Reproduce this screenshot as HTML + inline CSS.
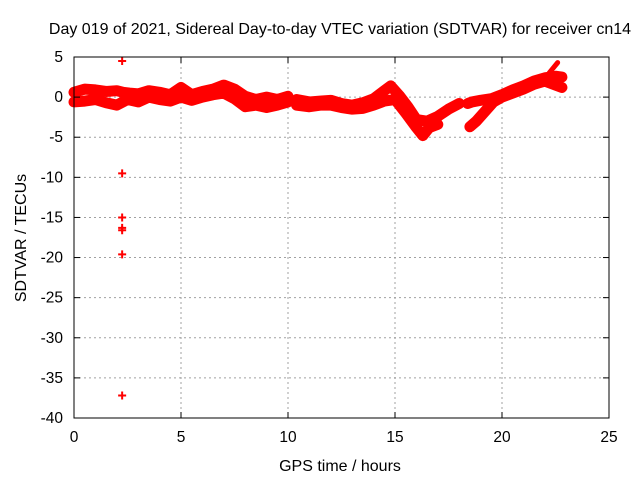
<!DOCTYPE html>
<html><head><meta charset="utf-8">
<style>
body{margin:0;background:#fff;}
svg{display:block;font-family:"Liberation Sans",sans-serif;}
</style></head>
<body>
<svg id="chart" width="640" height="480">
<rect width="640" height="480" fill="#fff"/>
<g id="grid"></g>
<g id="marks"></g>
<rect x="74" y="57" width="535" height="361" fill="none" stroke="#000" stroke-width="1"/>
<g id="ticks"></g>
<text x="340" y="34" text-anchor="middle" font-size="16">Day 019 of 2021, Sidereal Day-to-day VTEC variation (SDTVAR) for receiver cn14</text>
<text x="340" y="471" text-anchor="middle" font-size="16">GPS time / hours</text>
<text transform="translate(26,238) rotate(-90)" text-anchor="middle" font-size="16">SDTVAR / TECUs</text>
</svg>
<script>
const xTicks=[0,5,10,15,20,25];
const yTicks=[5,0,-5,-10,-15,-20,-25,-30,-35,-40];
const trackA_t=[0,0.5,1,1.5,2,2.3,2.6,3,3.5,4,4.5,5,5.5,6,6.5,7,7.5,8,8.5,9,9.5,10];
const trackA_v=[0.6,1,0.9,0.7,0.8,0.6,0.5,0.4,0.8,0.6,0.3,1.2,0.3,0.7,1,1.5,1,0.1,-0.3,0,-0.3,0.1];
const trackB_t=[0,0.5,1,1.5,2,2.5,3,3.5,4,4.5,5,5.5,6,6.5,7,7.5,8,8.5,9,9.5,10];
const trackB_v=[-0.6,-0.5,-0.3,-0.7,-1,-0.3,-0.6,0,-0.3,-0.5,0,-0.4,0,0.3,0.5,-0.2,-1.2,-1,-1.3,-1,-0.6];
const trackC_t=[10.4,11,11.5,12,12.5,13,13.5,14,14.5,14.8,15.2,15.6,16,16.5,17,17.5,18];
const trackC_v=[-0.3,-0.6,-0.5,-0.4,-0.8,-1,-0.7,-0.2,0.8,1.4,0.2,-1.2,-2.8,-3,-2.4,-1.5,-0.8];
const trackD_t=[10.4,11,11.5,12,12.5,13,13.5,14,14.5,15,15.5,16,16.3,16.6,17];
const trackD_v=[-1,-1.2,-1,-1,-1.3,-1.5,-1.4,-1,-0.5,-0.3,-2,-3.8,-4.8,-3.8,-3.4];
const trackE_t=[18.4,18.6,19,19.5,20,20.5,21,21.5,22,22.5,22.8];
const trackE_v=[-0.8,-0.6,-0.4,-0.2,0.3,0.9,1.4,2,2.4,2.6,2.5];
const trackF_t=[18.5,18.8,19.2,19.6,20,20.5,21,21.5,22,22.5,22.8];
const trackF_v=[-3.7,-3,-1.8,-0.6,0,0.5,1,1.6,2,1.5,1.2];
const spike_t=[22.2,22.6];
const spike_v=[3,4.3];
const outlier_t=[2.25,2.25,2.25,2.25,2.25,2.25,2.25];
const outlier_v=[4.5,-9.5,-15,-16.3,-16.6,-19.6,-37.2];
const NS="http://www.w3.org/2000/svg";
const X0=74,X1=609,Y0=57,Y1=418,XMIN=0,XMAX=25,YMIN=-40,YMAX=5;
function sx(v){return X0+(v-XMIN)/(XMAX-XMIN)*(X1-X0);}
function sy(v){return Y1-(v-YMIN)/(YMAX-YMIN)*(Y1-Y0);}
function mk(tag,attrs,parent){const e=document.createElementNS(NS,tag);for(const k in attrs)e.setAttribute(k,attrs[k]);parent.appendChild(e);return e;}
const grid=document.getElementById('grid'),ticks=document.getElementById('ticks'),marks=document.getElementById('marks');
xTicks.forEach(t=>{const x=sx(t);
 const g=mk('line',{x1:x,x2:x,y1:Y0,y2:Y1,stroke:'#a0a0a0','stroke-dasharray':'2,3'},grid);
 
 
 mk('line',{x1:x,x2:x,y1:Y1,y2:Y1-6,stroke:'#000'},ticks);
 mk('line',{x1:x,x2:x,y1:Y0,y2:Y0+6,stroke:'#000'},ticks);
 const l=mk('text',{x:x,y:Y1+24,'text-anchor':'middle','font-size':15.5},ticks);l.textContent=t;
 
 });
yTicks.forEach(t=>{const y=sy(t);
 const g=mk('line',{x1:X0,x2:X1,y1:y,y2:y,stroke:'#a0a0a0','stroke-dasharray':'2,3'},grid);
 
 
 mk('line',{x1:X0,x2:X0+6,y1:y,y2:y,stroke:'#000'},ticks);
 mk('line',{x1:X1,x2:X1-6,y1:y,y2:y,stroke:'#000'},ticks);
 const l=mk('text',{x:X0-11,y:y+5,'text-anchor':'end','font-size':15.5},ticks);l.textContent=t;
 
 });
[[trackA_t,trackA_v,11],[trackB_t,trackB_v,11],[trackC_t,trackC_v,11],[trackD_t,trackD_v,11],[trackE_t,trackE_v,11],[trackF_t,trackF_v,11],[spike_t,spike_v,5]].forEach(([ts,vs,w])=>{
 const pts=ts.map((t,i)=>sx(t)+','+sy(vs[i])).join(' ');
 const p=mk('polyline',{points:pts,fill:'none',stroke:'#ff0000','stroke-width':w,'stroke-linejoin':'round','stroke-linecap':'round'},marks);
 
 });
outlier_t.forEach((t,i)=>{const x=sx(t),y=sy(outlier_v[i]);
 const p=mk('path',{d:`M${x-4},${y}H${x+4}M${x},${y-4}V${y+4}`,stroke:'#ff0000','stroke-width':2},marks);
 
 });
</script>
</body></html>
